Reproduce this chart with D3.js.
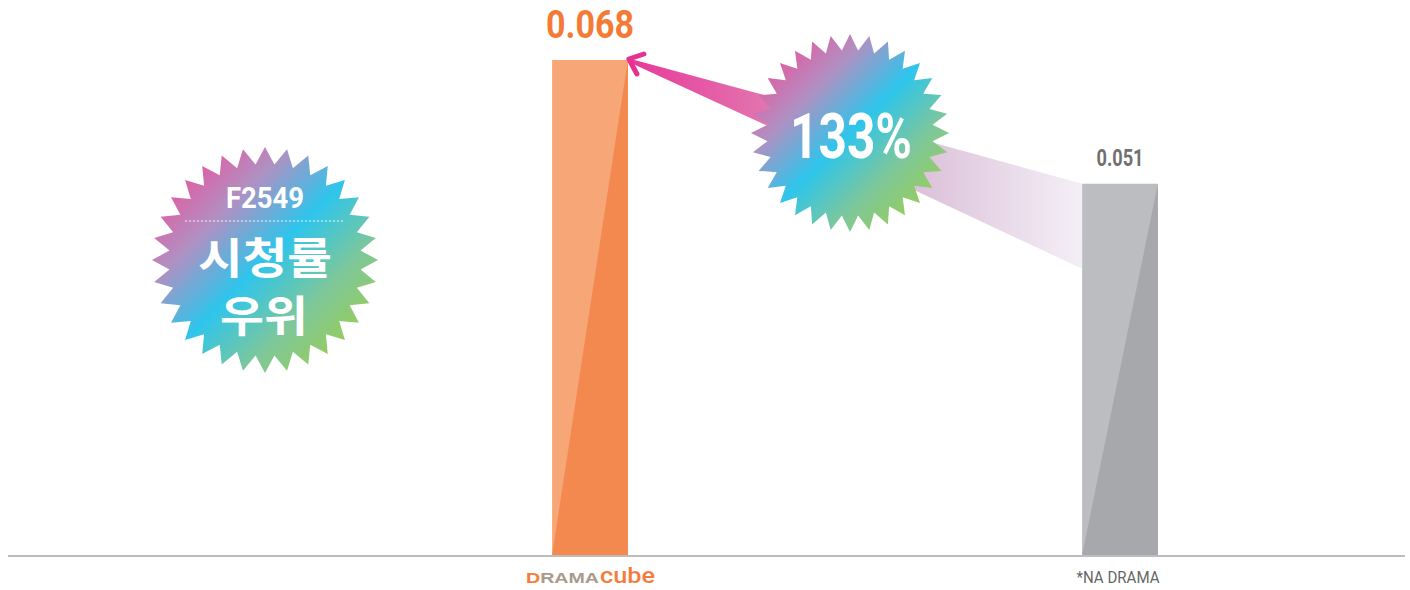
<!DOCTYPE html>
<html><head><meta charset="utf-8">
<script src="https://cdn.jsdelivr.net/npm/d3@7"></script>
<style>body{margin:0;background:#fff;} svg{display:block}</style>
</head><body>
<svg id="c" width="1410" height="590"></svg>
<script>
// ---- data ----
const categories = ["DRAMAcube", "*NA DRAMA"];
const values = [0.068, 0.051];
const valueLabels = ["0.068", "0.051"];
const badgeLines = ["F2549", "시청률", "우위"];

// ---- styles ----
const barLight = ["#f7a677", "#bcbdc0"];
const barDark = ["#f4894f", "#a6a8ab"];
const labelColor = ["#f47b36", "#707070"];

const svg = d3.select("#c");
const x = d3.scaleBand().domain(categories).range([325, 1385]).paddingInner(0.857).paddingOuter(0.4285);
const y = d3.scaleLinear().domain([0, 0.068]).range([555, 60]);
const bw = x.bandwidth();

const defs = svg.append("defs");
const burst = defs.append("linearGradient").attr("id", "burst")
  .attr("x1", 0).attr("y1", 0).attr("x2", 1).attr("y2", 1);
[[0, "#ea4f9b"], [0.15, "#dc62a5"], [0.3, "#b090c2"], [0.5, "#2ec5ec"], [0.7, "#7ec79a"], [1, "#aad12c"]]
  .forEach(([o, c]) => burst.append("stop").attr("offset", o).attr("stop-color", c));

const tipX = x(categories[0]) + bw, tipY = y(values[0]);
const gx1 = x(categories[1]), gy1 = y(values[1]);

const beam1 = defs.append("linearGradient").attr("id", "beam1").attr("gradientUnits", "userSpaceOnUse")
  .attr("x1", tipX).attr("y1", 0).attr("x2", 800).attr("y2", 0);
beam1.append("stop").attr("offset", 0).attr("stop-color", "#e8389a");
beam1.append("stop").attr("offset", 1).attr("stop-color", "#e084b4");
const beam2 = defs.append("linearGradient").attr("id", "beam2").attr("gradientUnits", "userSpaceOnUse")
  .attr("x1", 900).attr("y1", 0).attr("x2", gx1).attr("y2", 0);
beam2.append("stop").attr("offset", 0).attr("stop-color", "#d9bcd7");
beam2.append("stop").attr("offset", 1).attr("stop-color", "#f4eff6");

// baseline
svg.append("line").attr("x1", 8).attr("x2", 1405).attr("y1", y(0) + 1).attr("y2", y(0) + 1)
  .attr("stroke", "#bdbdbd").attr("stroke-width", 2);

// bars
const bars = svg.append("g").selectAll("g").data(categories).join("g");
bars.append("rect")
  .attr("x", d => x(d)).attr("y", (d, i) => y(values[i]))
  .attr("width", bw).attr("height", (d, i) => y(0) - y(values[i]))
  .attr("fill", (d, i) => barLight[i]);
bars.append("polygon")
  .attr("points", (d, i) => [[x(d), y(0)], [x(d) + bw, y(values[i])], [x(d) + bw, y(0)]].join(" "))
  .attr("fill", (d, i) => barDark[i]);

// value labels
svg.append("g").selectAll("text").data(categories).join("text")
  .attr("x", d => x(d) + bw / 2)
  .attr("y", (d, i) => y(values[i]) - (i === 0 ? 22 : 18))
  .attr("text-anchor", "middle")
  .attr("font-family", "Roboto, sans-serif").attr("font-weight", 700)
  .attr("font-size", (d, i) => i === 0 ? 39 : 23)
  .attr("textLength", (d, i) => i === 0 ? 88 : 47).attr("lengthAdjust", "spacingAndGlyphs")
  .attr("fill", (d, i) => labelColor[i])
  .text((d, i) => valueLabels[i]);

// beams
svg.append("polygon").attr("fill", "url(#beam2)")
  .attr("points", [[880, 128], [gx1, gy1], [gx1, gy1 + 85], [880, 174]].join(" "));
svg.append("polygon").attr("fill", "url(#beam1)")
  .attr("points", [[tipX + 3, tipY - 1], [820, 110], [820, 150], [tipX + 3, tipY + 3]].join(" "));
svg.append("path").attr("fill", "none").attr("stroke", "#e8308f").attr("stroke-width", 5)
  .attr("stroke-linecap", "round").attr("stroke-linejoin", "round")
  .attr("d", `M${tipX + 16},${tipY - 6} L${tipX + 1},${tipY - 1} L${tipX + 9},${tipY + 14}`);

// starbursts
function starPath(n, rOut, rIn) {
  const pts = [];
  for (let i = 0; i < n * 2; i++) {
    pts.push([i * Math.PI / n, i % 2 === 0 ? rOut : rIn]);
  }
  return d3.lineRadial().curve(d3.curveLinearClosed)(pts);
}
const b1 = svg.append("g").attr("transform", "translate(265,260)");
b1.append("path").attr("d", starPath(32, 113, 96)).attr("fill", "url(#burst)");
const b2 = svg.append("g").attr("transform", "translate(850,133)");
b2.append("path").attr("d", starPath(32, 99, 83)).attr("fill", "url(#burst)");

b2.append("text").attr("x", 1).attr("y", 25).attr("text-anchor", "middle")
  .attr("font-family", "Roboto, sans-serif").attr("font-weight", 700).attr("font-size", 63)
  .attr("textLength", 122).attr("lengthAdjust", "spacingAndGlyphs").attr("fill", "#fff")
  .text(Math.round(values[0] / values[1] * 100) + "%");

b1.append("text").attr("x", 0).attr("y", -52).attr("text-anchor", "middle")
  .attr("font-family", "Roboto, sans-serif").attr("font-weight", 700).attr("font-size", 29)
  .attr("textLength", 78).attr("lengthAdjust", "spacingAndGlyphs").attr("fill", "#fff")
  .text(badgeLines[0]);
b1.append("line").attr("x1", -80).attr("x2", 80).attr("y1", -39).attr("y2", -39)
  .attr("stroke", "#fff").attr("stroke-width", 1).attr("stroke-dasharray", "2,2").attr("opacity", 0.9);
b1.append("text").attr("x", 0).attr("y", 14).attr("text-anchor", "middle")
  .attr("font-family", "'Noto Sans CJK KR', sans-serif").attr("font-weight", 700).attr("font-size", 43)
  .attr("textLength", 134).attr("lengthAdjust", "spacingAndGlyphs")
  .attr("fill", "#fff").text(badgeLines[1]);
b1.append("text").attr("x", -1).attr("y", 72).attr("text-anchor", "middle")
  .attr("font-family", "'Noto Sans CJK KR', sans-serif").attr("font-weight", 700).attr("font-size", 43)
  .attr("textLength", 88).attr("lengthAdjust", "spacingAndGlyphs")
  .attr("fill", "#fff").text(badgeLines[2]);

// x axis labels
const ax = svg.append("g").attr("transform", `translate(0,${y(0)})`)
  .call(d3.axisBottom(x).tickSize(0));
ax.select(".domain").remove();
ax.selectAll(".tick text").remove();
ax.selectAll(".tick").each(function (d, i) {
  const g = d3.select(this);
  if (i === 0) {
    const t = g.append("text").attr("x", -64).attr("y", 28).attr("text-anchor", "start")
      .attr("font-family", "'Liberation Sans', Arial, sans-serif").attr("font-weight", 700).attr("font-size", 14)
      .attr("textLength", 73).attr("lengthAdjust", "spacingAndGlyphs");
    t.append("tspan").attr("fill", "#f47c3c").text(d.slice(0, 1));
    t.append("tspan").attr("fill", "#a89a8c").text(d.slice(1, 5));
    g.append("text").attr("x", 10).attr("y", 28).attr("text-anchor", "start")
      .attr("font-family", "Roboto, sans-serif").attr("font-weight", 500).attr("font-size", 22)
      .attr("textLength", 55).attr("lengthAdjust", "spacingAndGlyphs")
      .attr("fill", "#f47c3c").text(d.slice(5));
  } else {
    g.append("text").attr("x", -2).attr("y", 28).attr("text-anchor", "middle")
      .attr("font-family", "Roboto, sans-serif").attr("font-size", 17)
      .attr("textLength", 83).attr("lengthAdjust", "spacingAndGlyphs")
      .attr("fill", "#666").text(d);
  }
});
</script>
</body></html>
